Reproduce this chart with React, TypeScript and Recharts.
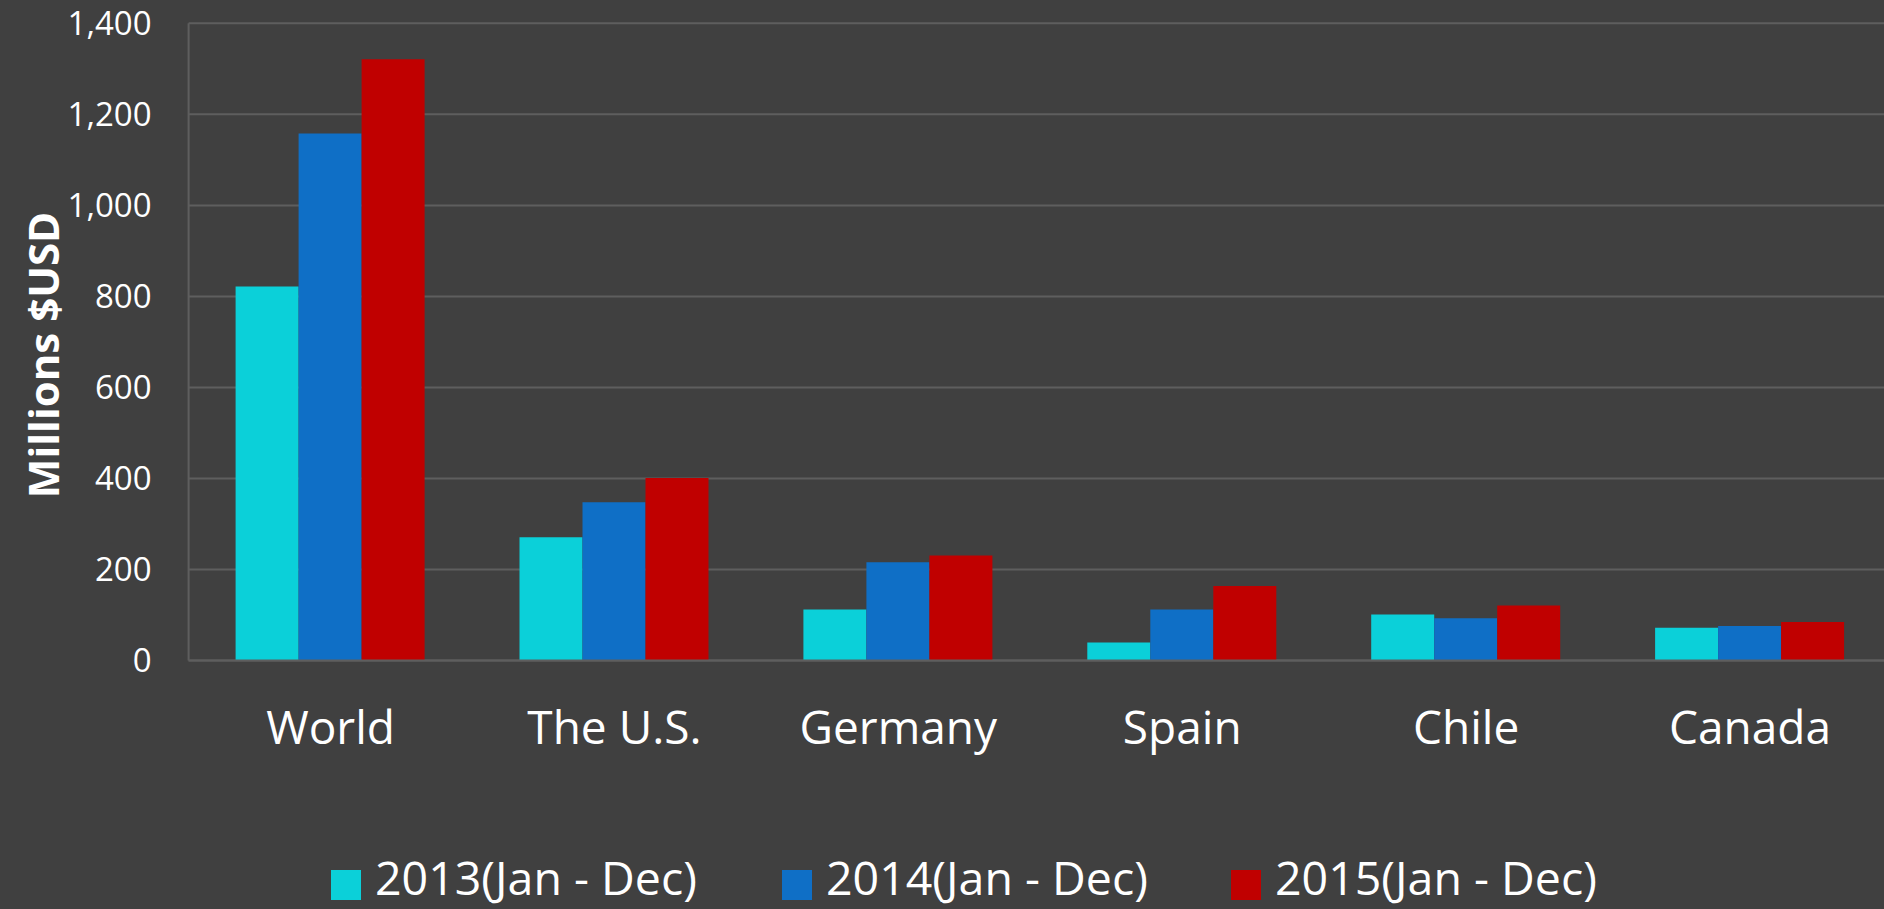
import React from 'react';
import { BarChart, Bar, XAxis, YAxis, CartesianGrid, Legend } from 'recharts';

const categories = ['World', 'The U.S.', 'Germany', 'Spain', 'Chile', 'Canada'];
const series2013 = [822, 271, 112, 40, 101, 72];
const series2014 = [1158, 348, 216, 112, 93, 76];
const series2015 = [1321, 401, 231, 164, 121, 85];
const seriesNames = ['2013(Jan - Dec)', '2014(Jan - Dec)', '2015(Jan - Dec)'];
const yTicks = [0, 200, 400, 600, 800, 1000, 1200, 1400];
const yTitle = 'Millions $USD';

const COLORS = ['#0BD0D9', '#0F6FC6', '#C00000'];
const BG = '#404040';
const GRID = '#5e5e5e';
const FONT = '"Open Sans", sans-serif';

const data = categories.map((c, i) => ({
  name: c,
  s2013: series2013[i],
  s2014: series2014[i],
  s2015: series2015[i],
}));

const fmt = (v: number) => v.toLocaleString('en-US');

const LegendContent = (props: any) => {
  const payload = props.payload || [];
  const xs = [331, 782, 1231];
  return (
    <svg width={1884} height={59} style={{ display: 'block', overflow: 'visible' }}>
      {payload.map((p: any, i: number) => (
        <g key={i}>
          <rect x={xs[i]} y={20} width={30} height={30} fill={p.color} />
          <text x={xs[i] + 44} y={45} fill="#ffffff" fontFamily={FONT} fontSize={46.5}>
            {p.value}
          </text>
        </g>
      ))}
    </svg>
  );
};

const YTitle = (props: any) => {
  const vb = props.viewBox || { x: 0 };
  const x = (vb.x || 0) + 59;
  const y = 355;
  return (
    <text
      x={x}
      y={y}
      transform={`rotate(-90 ${x} ${y})`}
      textAnchor="middle"
      fill="#ffffff"
      fontFamily={FONT}
      fontWeight={700}
      fontSize={42}
    >
      {yTitle}
    </text>
  );
};

export default function App() {
  return (
    <div style={{ width: 1884, height: 909, overflow: 'hidden', background: BG, position: 'relative' }}>
      <style>{`html,body{margin:0;padding:0;background:${BG};overflow:hidden;}`}</style>
      <BarChart
        width={1892}
        height={909}
        data={data}
        margin={{ top: 23.3, right: 0, bottom: 0, left: 0 }}
        barGap={0}
        barSize={63}
        style={{ background: BG }}
      >
        <CartesianGrid vertical={false} stroke={GRID} strokeWidth={2} />
        <XAxis
          dataKey="name"
          height={189.4}
          axisLine={{ stroke: GRID, strokeWidth: 2 }}
          tickLine={false}
          tickSize={0}
          tickMargin={51}
          tick={{ fill: '#ffffff', fontFamily: FONT, fontSize: 46 }}
          interval={0}
        />
        <YAxis
          width={188.6}
          domain={[0, 1400]}
          ticks={yTicks}
          tickFormatter={fmt}
          axisLine={{ stroke: GRID, strokeWidth: 2 }}
          tickLine={false}
          tickSize={0}
          tickMargin={37}
          tick={{ fill: '#ffffff', fontFamily: FONT, fontSize: 33 }}
          label={<YTitle />}
        />
        <Legend
          verticalAlign="bottom"
          content={<LegendContent />}
          wrapperStyle={{ left: 0, width: 1884, height: 59, bottom: 0 }}
        />
        <Bar dataKey="s2013" name={seriesNames[0]} fill={COLORS[0]} isAnimationActive={false} />
        <Bar dataKey="s2014" name={seriesNames[1]} fill={COLORS[1]} isAnimationActive={false} />
        <Bar dataKey="s2015" name={seriesNames[2]} fill={COLORS[2]} isAnimationActive={false} />
      </BarChart>
    </div>
  );
}
